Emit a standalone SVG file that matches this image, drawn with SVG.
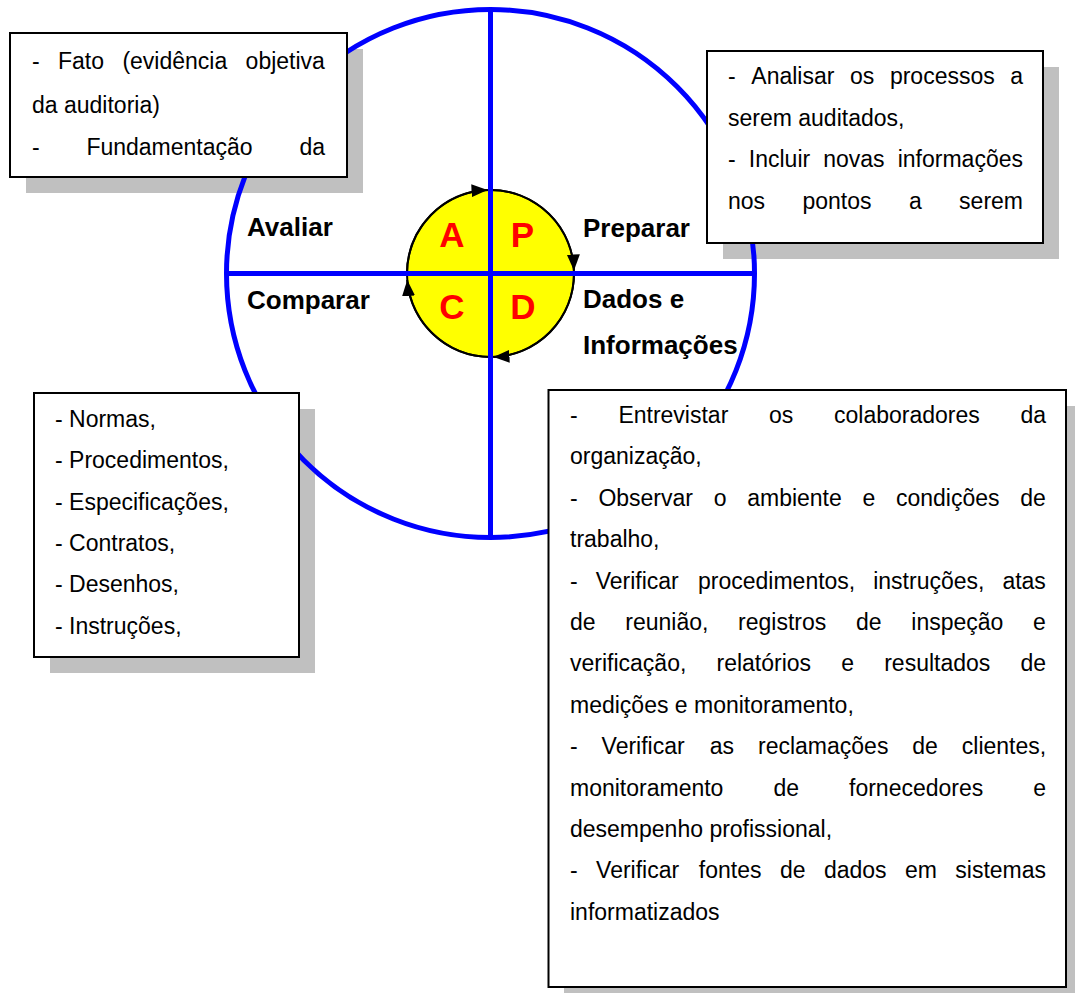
<svg xmlns="http://www.w3.org/2000/svg" width="1075" height="993" viewBox="0 0 1075 993">
  <style>
    .t { font-family: "Liberation Sans", Arial, sans-serif; font-size: 23px; fill: #000; }
    .lbl { font-family: "Liberation Sans", Arial, sans-serif; font-size: 26px; font-weight: bold; fill: #000; }
    .big { font-family: "Liberation Sans", Arial, sans-serif; font-size: 35px; font-weight: bold; fill: #ff0000; text-anchor: middle; }
    .box { fill: #ffffff; stroke: #000000; stroke-width: 2; }
    .shadow { fill: #c0c0c0; }
    .blue { fill: none; stroke: #0000ff; stroke-width: 5; }
    .arc { fill: none; stroke: #000000; stroke-width: 2; }
  </style>
  <defs>
    <marker id="ah" markerUnits="userSpaceOnUse" markerWidth="16" markerHeight="13" viewBox="0 0 16 13" refX="16" refY="6.5" orient="auto">
      <path d="M0,0 L16,6.5 L0,13 Z" fill="#000"/>
    </marker>
  </defs>

  <rect width="1075" height="993" fill="#ffffff"/>

  <g id="shadows">
    <rect class="shadow" x="26" y="49" width="337" height="144"/>
    <rect class="shadow" x="723" y="67" width="336" height="192"/>
    <rect class="shadow" x="50" y="409" width="265" height="264"/>
    <rect class="shadow" x="564" y="406" width="518" height="597"/>
  </g>

  <g id="outer-cycle">
    <circle class="blue" cx="490.5" cy="273.5" r="264"/>
  </g>

  <g id="pdca">
    <circle cx="490.5" cy="273.5" r="83.5" fill="#ffff00" stroke="#000" stroke-width="2"/>
    <text class="big" x="452" y="246.5">A</text>
    <text class="big" x="522.5" y="246.5">P</text>
    <text class="big" x="452" y="318.5">C</text>
    <text class="big" x="523" y="318.5">D</text>
  </g>

  <g id="connectors">
    <path class="arc" d="M407,273.5 A83.5,83.5 0 0 1 487.5,190.1" marker-end="url(#ah)"/>
    <path class="arc" d="M490.5,190 A83.5,83.5 0 0 1 573.95,270.5" marker-end="url(#ah)"/>
    <path class="arc" d="M574,273.5 A83.5,83.5 0 0 1 493.5,356.95" marker-end="url(#ah)"/>
    <path class="arc" d="M490.5,357 A83.5,83.5 0 0 1 407.25,280" marker-end="url(#ah)"/>
  </g>

  <g id="axes">
    <line class="blue" x1="490.5" y1="9.5" x2="490.5" y2="537.5"/>
    <line class="blue" x1="226.5" y1="273.5" x2="754.5" y2="273.5"/>
  </g>

  <g id="label-avaliar"><text class="lbl" x="247" y="236">Avaliar</text></g>
  <g id="label-preparar"><text class="lbl" x="583" y="237">Preparar</text></g>
  <g id="label-comparar"><text class="lbl" x="247" y="309">Comparar</text></g>
  <g id="label-dados">
    <text class="lbl" x="583" y="308">Dados e</text>
    <text class="lbl" x="583" y="354">Informações</text>
  </g>

  <g id="box-avaliar">
    <rect class="box" x="10" y="33" width="337" height="144"/>
    <text class="t" y="68.5"><tspan x="32">-</tspan><tspan x="58">Fato</tspan><tspan x="122.4">(evidência</tspan><tspan x="245.6">objetiva</tspan></text>
    <text class="t" x="32" y="113">da auditoria)</text>
    <text class="t" y="155"><tspan x="32">-</tspan><tspan x="86.4">Fundamentação</tspan><tspan x="299.4">da</tspan></text>
  </g>

  <g id="box-preparar">
    <rect class="box" x="707" y="51" width="336" height="192"/>
    <text class="t" y="83.5"><tspan x="728">-</tspan><tspan x="751.3">Analisar</tspan><tspan x="850">os</tspan><tspan x="889.9">processos</tspan><tspan x="1010.3">a</tspan></text>
    <text class="t" x="728" y="125.5">serem auditados,</text>
    <text class="t" y="167"><tspan x="728">-</tspan><tspan x="748.8">Incluir</tspan><tspan x="823.2">novas</tspan><tspan x="897.7">informações</tspan></text>
    <text class="t" y="208.5"><tspan x="728">nos</tspan><tspan x="802.5">pontos</tspan><tspan x="908.9">a</tspan><tspan x="959.1">serem</tspan></text>
  </g>

  <g id="box-comparar">
    <rect class="box" x="34" y="393" width="265" height="264"/>
    <text class="t" x="55" y="427">- Normas,</text>
    <text class="t" x="55" y="468.3">- Procedimentos,</text>
    <text class="t" x="55" y="509.6">- Especificações,</text>
    <text class="t" x="55" y="550.9">- Contratos,</text>
    <text class="t" x="55" y="592.2">- Desenhos,</text>
    <text class="t" x="55" y="633.5">- Instruções,</text>
  </g>

  <g id="box-dados">
    <rect class="box" x="548.5" y="390" width="517.5" height="597"/>
    <text class="t" y="423"><tspan x="570">-</tspan><tspan x="618.4">Entrevistar</tspan><tspan x="769">os</tspan><tspan x="834">colaboradores</tspan><tspan x="1020.4">da</tspan></text>
    <text class="t" x="570" y="464.4">organização,</text>
    <text class="t" y="505.8"><tspan x="570">-</tspan><tspan x="598.4">Observar</tspan><tspan x="713.7">o</tspan><tspan x="747.2">ambiente</tspan><tspan x="862.5">e</tspan><tspan x="896">condições</tspan><tspan x="1020.2">de</tspan></text>
    <text class="t" x="570" y="547.2">trabalho,</text>
    <text class="t" y="588.6"><tspan x="570">-</tspan><tspan x="595.7">Verificar</tspan><tspan x="698">procedimentos,</tspan><tspan x="873.2">instruções,</tspan><tspan x="1002.4">atas</tspan></text>
    <text class="t" y="630"><tspan x="570">de</tspan><tspan x="625.3">reunião,</tspan><tspan x="738.1">registros</tspan><tspan x="856">de</tspan><tspan x="911.3">inspeção</tspan><tspan x="1033">e</tspan></text>
    <text class="t" y="671.4"><tspan x="570">verificação,</tspan><tspan x="716.5">relatórios</tspan><tspan x="841.2">e</tspan><tspan x="884.2">resultados</tspan><tspan x="1020.4">de</tspan></text>
    <text class="t" x="570" y="712.8">medições e monitoramento,</text>
    <text class="t" y="754.2"><tspan x="570">-</tspan><tspan x="601.6">Verificar</tspan><tspan x="709.8">as</tspan><tspan x="758">reclamações</tspan><tspan x="912.3">de</tspan><tspan x="961.8">clientes,</tspan></text>
    <text class="t" y="795.6"><tspan x="570">monitoramento</tspan><tspan x="773.4">de</tspan><tspan x="849">fornecedores</tspan><tspan x="1033.2">e</tspan></text>
    <text class="t" x="570" y="837">desempenho profissional,</text>
    <text class="t" y="878.4"><tspan x="570">-</tspan><tspan x="596.1">Verificar</tspan><tspan x="698.8">fontes</tspan><tspan x="779.9">de</tspan><tspan x="823.9">dados</tspan><tspan x="905">em</tspan><tspan x="955.3">sistemas</tspan></text>
    <text class="t" x="570" y="919.8">informatizados</text>
  </g>
</svg>
